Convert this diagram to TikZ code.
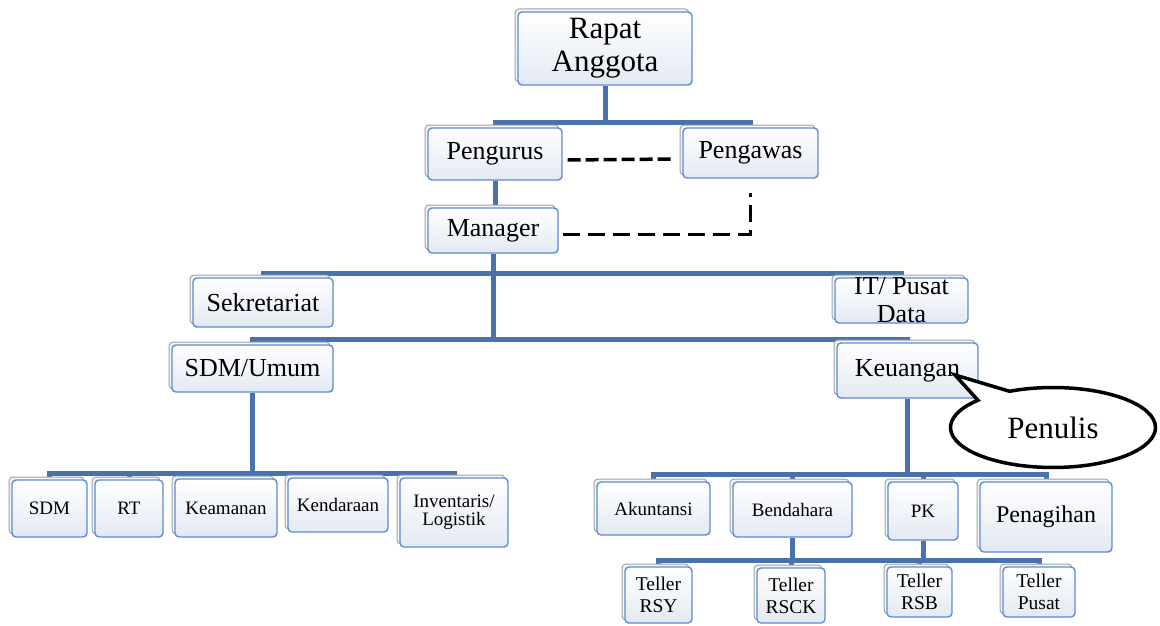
\documentclass[tikz,border=0pt]{standalone}
\usepackage{fontspec}
\setmainfont{Liberation Serif}
\usetikzlibrary{shadows,shapes.callouts,backgrounds}
\definecolor{connblue}{HTML}{4A72AA}
\definecolor{boxline}{HTML}{5B8CD2}
\definecolor{boxfill}{HTML}{E3E9F3}
\definecolor{backline}{HTML}{9FA3A8}

\begin{document}
\begin{tikzpicture}[x=1pt,y=-1pt,
  orgbox/.style={draw=boxline, line width=1.4pt, rounded corners=4pt, top color=white, bottom color=boxfill,
    inner sep=0pt, align=center, font=\fontsize{26}{28}\selectfont,
    copy shadow={shadow xshift=-3pt, shadow yshift=3pt, draw=backline, line width=1pt, fill=gray!8}},
  smalltext/.style={font=\fontsize{19}{18}\selectfont},
  tellertext/.style={font=\fontsize{19.5}{22}\selectfont},
  conn/.style={draw=connblue, line width=5pt},
  dashlink/.style={draw=black, line width=3.5pt, dash pattern=on 13pt off 5pt}]
\useasboundingbox (0,0) rectangle (1160,626);

\node[orgbox, font=\fontsize{31}{33}\selectfont, minimum width=174pt, minimum height=73pt] (RA) at (605,48.5) {Rapat\\Anggota};
\node[orgbox, minimum width=134pt, minimum height=52pt] (PGR) at (495,154) {Pengurus};
\node[orgbox, minimum width=135pt, minimum height=50pt] (PGW) at (750.5,153) {Pengawas};
\node[orgbox, minimum width=130pt, minimum height=45pt] (MGR) at (493,230.5) {Manager};
\node[orgbox, minimum width=140pt, minimum height=49pt] (SEK) at (263,302.5) {Sekretariat};
\node[orgbox, minimum width=133pt, minimum height=45pt, inner ysep=-3.5pt] (IT) at (901.5,300.5) {IT/ Pusat\\Data};
\node[orgbox, minimum width=161pt, minimum height=47pt] (SDMU) at (252.5,368.5) {SDM/Umum};
\node[orgbox, minimum width=141pt, minimum height=55pt] (KEU) at (907.5,370.5) {Keuangan};

\node[orgbox, smalltext, minimum width=75pt, minimum height=57pt] (SDM) at (49.5,508.5) {SDM};
\node[orgbox, smalltext, minimum width=68pt, minimum height=57pt] (RT) at (129,508.5) {RT};
\node[orgbox, smalltext, minimum width=102pt, minimum height=58pt] (KEA) at (226,508) {Keamanan};
\node[orgbox, smalltext, minimum width=100pt, minimum height=54pt] (KEN) at (338,505) {Kendaraan};
\node[orgbox, smalltext, minimum width=108pt, minimum height=69pt] (INV) at (454,512.5) {Inventaris/\\Logistik};

\node[orgbox, smalltext, minimum width=113pt, minimum height=53pt] (AKU) at (653.5,508.5) {Akuntansi};
\node[orgbox, smalltext, minimum width=119pt, minimum height=55pt] (BEN) at (792.5,509.5) {Bendahara};
\node[orgbox, smalltext, minimum width=70pt, minimum height=58pt] (PK) at (923,511) {PK};
\node[orgbox, font=\fontsize{24}{26}\selectfont, minimum width=132pt, minimum height=70pt] (PNG) at (1046,517) {Penagihan};

\node[orgbox, tellertext, minimum width=67pt, minimum height=56pt] (T1) at (658.5,595) {Teller\\RSY};
\node[orgbox, tellertext, minimum width=68pt, minimum height=55pt] (T2) at (791,595.5) {Teller\\RSCK};
\node[orgbox, tellertext, minimum width=65pt, minimum height=50pt] (T3) at (919.5,592) {Teller\\RSB};
\node[orgbox, tellertext, minimum width=72pt, minimum height=50pt] (T4) at (1039,592) {Teller\\Pusat};

\coordinate (PT) at (955,375);
\node[ellipse callout, draw=black, fill=white, line width=3.5pt, minimum width=205pt, minimum height=80pt,
  callout absolute pointer={(PT)}, callout pointer arc=22, font=\fontsize{31}{33}\selectfont] (PN) at (1053,427.5) {Penulis};

\coordinate (B1) at (605,122);
\coordinate (B2) at (493,273);
\coordinate (B3) at (493,339);
\coordinate (B4) at (252.5,473);
\coordinate (B5) at (907.5,474);
\coordinate (B6) at (792.5,560);

\begin{scope}[on background layer]
\fill[white] (0,0) rectangle (1160,626);
\draw[conn] (RA.south) -- (B1);
\draw[conn] (PGR.north) |- (B1) -| (PGW.north);
\draw[conn] (PGR.south) -- (PGR.south |- MGR.north);
\draw[conn] (MGR.south) -- (B3);
\draw[conn] (SEK.north) |- (B2) -| (IT.north);
\draw[conn] (SDMU.north) |- (B3) -| (KEU.north);
\draw[conn] (SDMU.south) -- (B4);
\draw[conn] (SDM.north) |- (B4) -| (INV.north);
\foreach \n in {RT,KEA,KEN} \draw[conn] (\n.north) -- (\n.north |- B4);
\draw[conn] (KEU.south) -- (B5);
\draw[conn] (AKU.north) |- (B5) -| (PNG.north);
\foreach \n in {BEN,PK} \draw[conn] (\n.north) -- (\n.north |- B5);
\draw[conn] (BEN.south) -- (B6);
\draw[conn] (PK.south) -- (PK.south |- B6);
\draw[conn] (T1.north) |- (B6) -| (T4.north);
\foreach \n in {T2,T3} \draw[conn] (\n.north) -- (\n.north |- B6);
\end{scope}

\draw[dashlink] ([xshift=5pt,yshift=-6pt]PGR.east) -- ([xshift=-8pt,yshift=-6pt]PGW.west);
\draw[dashlink, dash pattern=on 17pt off 8pt] ([xshift=4pt,yshift=-4pt]MGR.east) -| ([yshift=-14pt]PGW.south);
\end{tikzpicture}
\end{document}
